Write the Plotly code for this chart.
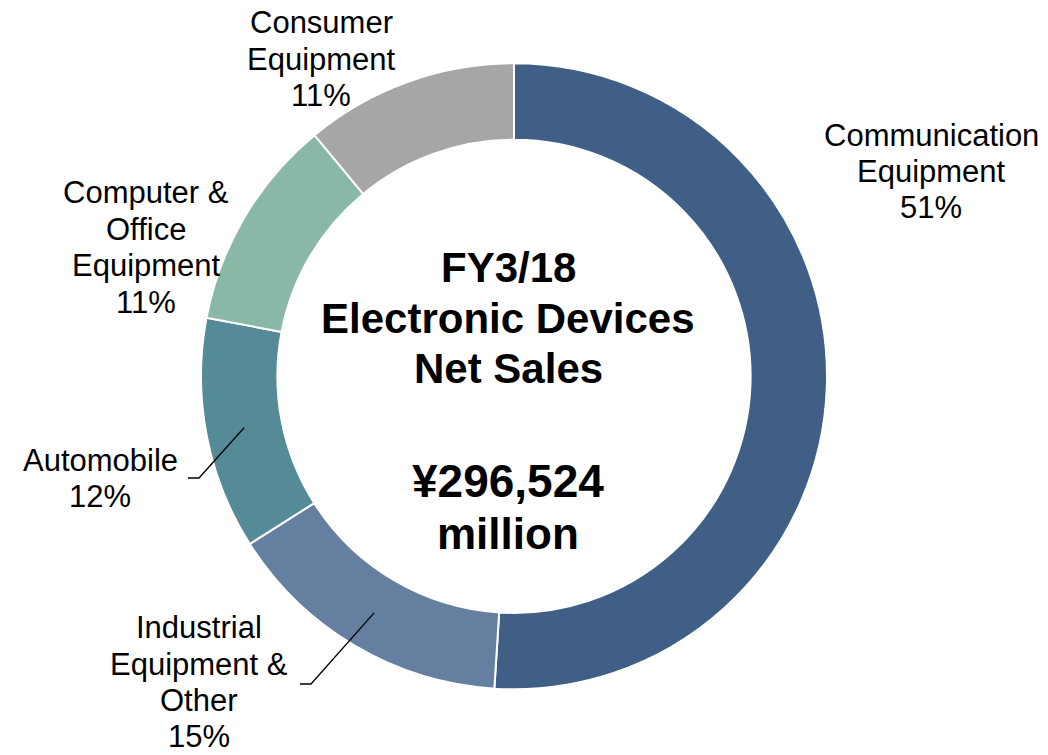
import math
import plotly.graph_objects as go

# Segment shares of FY3/18 Electronic Devices net sales (clockwise from 12 o'clock)
segments = ["Communication Equipment", "Industrial Equipment & Other", "Automobile",
            "Computer & Office Equipment", "Consumer Equipment"]
shares = [51, 15, 12, 11, 11]
# Segment names as they wrap in the outside labels
label_lines = [["Communication", "Equipment"],
               ["Industrial", "Equipment &", "Other"],
               ["Automobile"],
               ["Computer &", "Office", "Equipment"],
               ["Consumer", "Equipment"]]
total_sales = 296524  # ¥ million

colors = ["#3F5F86", "#647F9F", "#548B96", "#8AB8A7", "#A6A6A6"]

W, H = 1048, 755
CX, CY, R_OUT = 514, 376.3, 313
HOLE = 0.756

def px(x):
    return x / W

def py(y):
    return 1 - y / H

fig = go.Figure(go.Pie(
    labels=segments,
    values=shares,
    sort=False,
    direction="clockwise",
    rotation=0,
    hole=HOLE,
    textinfo="none",
    hoverinfo="label+percent",
    marker=dict(colors=colors, line=dict(color="white", width=2)),
    domain=dict(x=[px(CX - R_OUT), px(CX + R_OUT)],
                y=[py(CY + R_OUT), py(CY - R_OUT)]),
    showlegend=False,
))

FONT = "Liberation Sans, Arial, sans-serif"
annotations = []

def add_line(text, x, baseline, size, bold=False):
    # place a single text line by its baseline (middle of the glyph box sits ~0.35em above it)
    annotations.append(dict(
        text=f"<b>{text}</b>" if bold else text,
        x=px(x), y=py(baseline - 0.3465 * size),
        xref="paper", yref="paper", xanchor="center", yanchor="middle",
        showarrow=False, font=dict(family=FONT, size=size, color="black")))

# Outside labels: (centre x, first baseline, line spacing) in pixels, segment order
LABEL_SIZE = 31
label_pos = [(931, 146.7, 36), (199, 638.5, 36.3), (100, 471.7, 36),
             (146, 203.3, 36.7), (321, 33.3, 36.7)]
for lines, share, (lx, base, step) in zip(label_lines, shares, label_pos):
    for i, t in enumerate(lines + [f"{share}%"]):
        add_line(t, lx, base + i * step, LABEL_SIZE)

# Centre title: (text, baseline, font size)
center_lines = [("FY3/18", 281.7, 42), ("Electronic Devices", 333.3, 42),
                ("Net Sales", 383.3, 42),
                (f"¥{total_sales:,}", 496.7, 46), ("million", 548.3, 44)]
for txt, base, size in center_lines:
    add_line(txt, 508, base, size, bold=True)

# Leader lines from the middle of the ring at each slice's mid-angle
r_mid = (R_OUT + R_OUT * HOLE) / 2
cum = [sum(shares[:i]) + shares[i] / 2 for i in range(len(shares))]
tot = sum(shares)
leader_bends = {1: [(311, 684), (300, 684)], 2: [(199, 478), (188, 478)]}
shapes = []
for idx, bends in leader_bends.items():
    theta = 2 * math.pi * cum[idx] / tot
    sx = CX + r_mid * math.sin(theta)
    sy = CY - r_mid * math.cos(theta)
    pts = [(sx, sy)] + bends
    path = "M " + " L ".join(f"{px(x):.5f},{py(y):.5f}" for x, y in pts)
    shapes.append(dict(type="path", path=path, xref="paper", yref="paper",
                       line=dict(color="black", width=1.3)))

fig.update_layout(
    width=W, height=H,
    margin=dict(l=0, r=0, t=0, b=0),
    paper_bgcolor="white",
    plot_bgcolor="white",
    annotations=annotations,
    shapes=shapes,
)

fig.write_html("out.html")
